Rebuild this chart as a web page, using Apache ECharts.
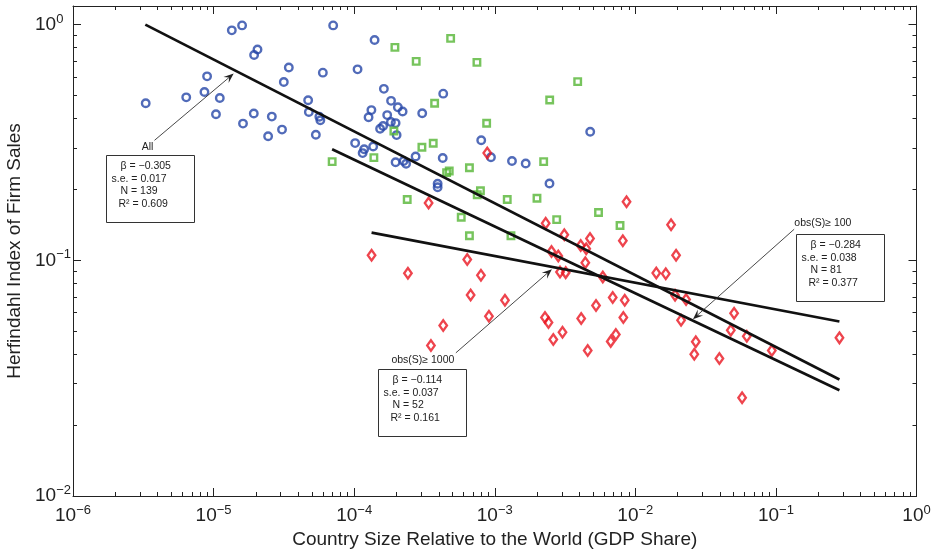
<!DOCTYPE html>
<html><head><meta charset="utf-8">
<script src="https://cdn.jsdelivr.net/npm/echarts@6/dist/echarts.min.js"></script>
<style>html,body{margin:0;padding:0;background:#fff}#c{width:933px;height:552px}</style>
</head><body><div id="c"></div>
<script>
// ---- data ----
const blueX = [1.348e-5,1.595e-5,3.29e-6,6.39e-6,8.61e-6,8.99e-6,1.107e-5,1.040e-5,1.619e-5,1.932e-5,2.596e-5,2.443e-5,3.068e-5,3.429e-5,3.159e-5,1.942e-5,2.053e-5,4.706e-5,4.760e-5,5.339e-5,5.654e-5,5.747e-5,7.089e-5,1.397e-4,5.987e-5,1.057e-4,1.627e-4,1.830e-4,1.326e-4,1.266e-4,2.046e-4,2.211e-4,1.718e-4,1.825e-4,1.971e-4,1.606e-4,1.529e-4,2.004e-4,3.048e-4,4.300e-4,1.016e-4,1.178e-4,1.149e-4,1.365e-4,1.971e-4,2.247e-4,2.341e-4,2.735e-4,4.265e-4,3.924e-4,3.924e-4,8.013e-4,9.397e-4,1.326e-3,1.660e-3,2.451e-3,4.775e-3];
const blueY = [0.946,0.993,0.4637,0.4915,0.5177,0.6036,0.4883,0.4165,0.3803,0.4198,0.4073,0.336,0.3587,0.6578,0.5709,0.7433,0.7842,0.4775,0.4259,0.3409,0.4064,0.3928,0.993,0.8604,0.6258,0.6463,0.5342,0.4751,0.4339,0.4045,0.446,0.428,0.4133,0.3863,0.3822,0.3715,0.3615,0.3399,0.4206,0.5097,0.3144,0.296,0.2851,0.3041,0.2606,0.264,0.2569,0.2756,0.2719,0.2113,0.2042,0.3231,0.2737,0.264,0.2574,0.2117,0.351];
const greenX = [1.949e-4,4.855e-4,2.762e-4,7.468e-4,3.890e-3,2.459e-3,3.735e-4,8.757e-4,1.917e-4,3.033e-4,3.651e-4,6.974e-5,1.381e-4,6.605e-4,4.546e-4,4.746e-4,2.228e-3,1.227e-3,1.997e-3,7.910e-4,7.505e-4,2.384e-4,5.776e-4,2.758e-3,5.472e-3,7.783e-3,6.605e-4,1.304e-3];
const greenY = [0.8011,0.8749,0.6988,0.692,0.5731,0.4789,0.4637,0.3814,0.3538,0.3018,0.3138,0.2624,0.2729,0.247,0.2357,0.2394,0.2624,0.1811,0.1834,0.1973,0.1897,0.1811,0.1524,0.1489,0.1595,0.1405,0.1272,0.1272];
const redX = [8.844e-4,3.384e-4,2.303e-3,3.124e-3,4.760e-3,8.658e-3,1.795e-2,8.147e-3,1.949e-2,1.409e-2,1.646e-2,5.870e-3,1.917e-2,2.296e-2,6.904e-3,8.407e-3,8.215e-3,2.115e-2,5.041e-2,4.775e-2,6.208e-2,7.265e-3,6.682e-3,2.692e-2,2.626e-2,3.962e-2,9.350e-2,0.2831,5.747e-2,1.330e-4,2.412e-4,6.372e-4,7.976e-4,6.737e-4,1.182e-3,9.093e-4,4.300e-4,3.516e-4,2.533e-3,2.831e-3,4.087e-3,4.473e-3,4.407e-3,2.912e-3,3.196e-3,5.252e-3,2.277e-3,2.411e-3,4.120e-3,3.033e-3,2.609e-3,4.584e-3];
const redY = [0.2854,0.1751,0.1437,0.1284,0.1238,0.1772,0.1416,0.1211,0.1051,0.08833,0.08774,0.08503,0.07112,0.06827,0.06954,0.06773,0.05721,0.05572,0.05966,0.05053,0.04766,0.04845,0.0453,0.04516,0.03998,0.03834,0.04145,0.04688,0.0261,0.1051,0.08816,0.1008,0.08646,0.07133,0.06773,0.05793,0.0529,0.04352,0.1091,0.1043,0.1156,0.112,0.09768,0.08929,0.08868,0.06432,0.05726,0.05452,0.0567,0.04955,0.04614,0.04145];
// regression lines (endpoints)
const fitAllX = [3.27e-6, 0.283],  fitAllY = [1.0, 0.0312];
const fit100X = [6.97e-5, 0.283],  fit100Y = [0.296, 0.0281];
const fit1000X = [1.33e-4, 0.283], fit1000Y = [0.131, 0.055];
// axes
const xMin = 1e-6, xMax = 1, yMin = 0.01, yMax = 1.2;
const xDecades = [1e-6,1e-5,1e-4,1e-3,1e-2,1e-1,1];
const yDecades = [0.01,0.1,1];
const xMinorTicks = [], yMinorTicks = [];
xDecades.slice(0,-1).forEach(d => { for (let k = 2; k <= 9; k++) xMinorTicks.push(+(d*k).toPrecision(3)); });
yDecades.forEach(d => { for (let k = 2; k <= 9; k++) { const v = +(d*k).toPrecision(3); if (v <= yMax) yMinorTicks.push(v); } });
// annotations
const annoLabels = ['All', 'obs(S)\u2265 1000', 'obs(S)\u2265 100'];
const annoStats = [
  ['\u03b2 = \u22120.305', 's.e. = 0.017', 'N = 139', 'R\u00b2 = 0.609'],
  ['\u03b2 = \u22120.114', 's.e. = 0.037', 'N = 52', 'R\u00b2 = 0.161'],
  ['\u03b2 = \u22120.284', 's.e. = 0.038', 'N = 81', 'R\u00b2 = 0.377']
];
const annoTip  = [[1.39e-5, 0.62], [2.55e-3, 0.0917], [0.0257, 0.0563]];
const annoTail = [[3.8e-6, 0.323], [5.29e-4, 0.0405], [0.1348, 0.1355]];

const FONT = '"Liberation Sans", Arial, Helvetica, sans-serif';
const INK = '#222';
const zip = (a, b) => a.map((v, i) => [v, b[i]]);

function fmt(v) {
  const e = Math.log10(v), r = Math.round(e);
  if (Math.abs(e - r) > 1e-6) return '';
  return '{a|10}{b|' + (r < 0 ? '\u2212' + (-r) : String(r)) + '}';
}
const labelRich = {
  a: { fontSize: 19, fontFamily: FONT, color: INK, lineHeight: 24 },
  b: { fontSize: 13, fontFamily: FONT, color: INK, lineHeight: 10, verticalAlign: 'top' }
};
function mkX(pos, major, withLabel) {
  return {
    type: 'log', logBase: 10, min: xMin, max: xMax, position: pos,
    axisLine: { show: major, onZero: false, lineStyle: { color: INK, width: 1 } },
    axisTick: major ? { show: true, inside: true, length: 8, lineStyle: { color: INK, width: 1 } }
                    : { show: true, inside: true, length: 4, customValues: xMinorTicks, lineStyle: { color: INK, width: 1 } },
    axisLabel: withLabel ? { show: true, margin: 8, formatter: fmt, rich: labelRich, showMaxLabel: true } : { show: false },
    splitLine: { show: false }, minorTick: { show: false },
    name: withLabel ? 'Country Size Relative to the World (GDP Share)' : '',
    nameLocation: 'middle', nameGap: 30,
    nameTextStyle: { fontSize: 19, fontFamily: FONT, color: INK }
  };
}
function mkY(pos, major, withLabel) {
  return {
    type: 'log', logBase: 10, min: yMin, max: yMax, position: pos,
    axisLine: { show: major, onZero: false, lineStyle: { color: INK, width: 1 } },
    axisTick: major ? { show: true, inside: true, length: 8, lineStyle: { color: INK, width: 1 } }
                    : { show: true, inside: true, length: 4, customValues: yMinorTicks, lineStyle: { color: INK, width: 1 } },
    axisLabel: withLabel ? { show: true, margin: 38, align: 'left', formatter: fmt, rich: labelRich, showMaxLabel: false } : { show: false },
    splitLine: { show: false }, minorTick: { show: false },
    name: withLabel ? 'Herfindahl Index of Firm Sales' : '',
    nameLocation: 'middle', nameGap: 41,
    nameTextStyle: { fontSize: 19, fontFamily: FONT, color: INK }
  };
}

const chart = echarts.init(document.getElementById('c'), null, { renderer: 'canvas' });
const lineStyle = { color: '#111', width: 2.7 };
const option = {
  animation: false,
  backgroundColor: '#fff',
  grid: { left: 73, right: 16.5, top: 6, bottom: 56, outerBoundsMode: 'none', containLabel: false },
  xAxis: [mkX('bottom', true, true), mkX('bottom', false, false), mkX('top', true, false), mkX('top', false, false)],
  yAxis: [mkY('left', true, true), mkY('left', false, false), mkY('right', true, false), mkY('right', false, false)],
  series: [
    { type: 'scatter', data: zip(blueX, blueY), symbol: 'circle', symbolSize: 7.5,
      itemStyle: { color: 'rgba(255,255,255,0)', borderColor: '#2646a8', borderWidth: 2.4 }, silent: true },
    { type: 'scatter', data: zip(greenX, greenY), symbol: 'rect', symbolSize: 6.5,
      itemStyle: { color: 'rgba(255,255,255,0)', borderColor: '#55b535', borderWidth: 2.4 }, silent: true },
    { type: 'scatter', data: zip(redX, redY), symbol: 'diamond', symbolSize: [7.5, 10.5],
      itemStyle: { color: 'rgba(255,255,255,0)', borderColor: '#ea1520', borderWidth: 2.4 }, silent: true },
    { type: 'line', data: zip(fitAllX, fitAllY), symbol: 'none', lineStyle, silent: true, z: 5 },
    { type: 'line', data: zip(fit100X, fit100Y), symbol: 'none', lineStyle, silent: true, z: 5 },
    { type: 'line', data: zip(fit1000X, fit1000Y), symbol: 'none', lineStyle, silent: true, z: 5 }
  ]
};
chart.setOption(option);

// annotations (arrows, labels and stat boxes), anchored to data coordinates
const labelOff = [[-7, 7], [-33, 7.3], [28.7, -6.3]];
const boxOff = [[-49, 15], [-78.3, 16.6], [1.7, 4.3]];
const statDx = [14, 5, 14, 12], statDy = [11, 23.5, 35.5, 48.5];
const g = [];
const AF = '10.5px ' + FONT;
annoLabels.forEach((lab, i) => {
  const tip = chart.convertToPixel({ xAxisIndex: 0, yAxisIndex: 0 }, annoTip[i]);
  const tail = chart.convertToPixel({ xAxisIndex: 0, yAxisIndex: 0 }, annoTail[i]);
  const dx = tip[0] - tail[0], dy = tip[1] - tail[1], len = Math.hypot(dx, dy);
  const ux = dx / len, uy = dy / len, nx = -uy, ny = ux, L = 10, W = 4;
  g.push({ type: 'line', z: 100, shape: { x1: tail[0], y1: tail[1], x2: tip[0] - ux * 6, y2: tip[1] - uy * 6 },
           style: { stroke: '#333', lineWidth: 0.9 } });
  g.push({ type: 'polygon', z: 100, shape: { points: [
      [tip[0], tip[1]],
      [tip[0] - ux * L + nx * W, tip[1] - uy * L + ny * W],
      [tip[0] - ux * L * 0.6, tip[1] - uy * L * 0.6],
      [tip[0] - ux * L - nx * W, tip[1] - uy * L - ny * W]] },
    style: { fill: '#222' } });
  g.push({ type: 'text', z: 100, x: tail[0] + labelOff[i][0], y: tail[1] + labelOff[i][1],
           style: { text: lab, font: AF, fill: INK, align: 'center', verticalAlign: 'middle' } });
  const bx = Math.round(tail[0] + boxOff[i][0]) + 0.5, by = Math.round(tail[1] + boxOff[i][1]) + 0.5;
  g.push({ type: 'rect', z: 100, shape: { x: bx, y: by, width: 88, height: 67 },
           style: { fill: '#fff', stroke: '#333', lineWidth: 1 } });
  annoStats[i].forEach((t, k) => {
    g.push({ type: 'text', z: 101, x: bx + statDx[k], y: by + statDy[k],
             style: { text: t, font: AF, fill: INK, align: 'left', verticalAlign: 'middle' } });
  });
});
chart.setOption({ graphic: { elements: g } });
</script>
</body></html>
